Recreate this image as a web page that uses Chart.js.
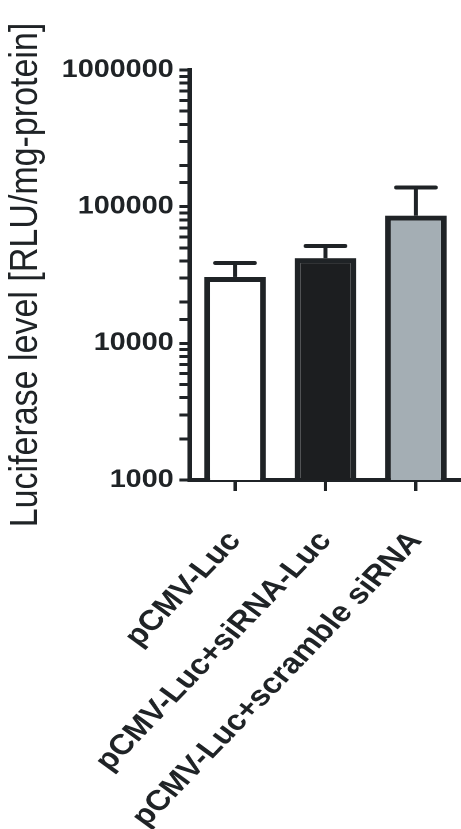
<!DOCTYPE html>
<html>
<head>
<meta charset="utf-8">
<script src="https://cdn.jsdelivr.net/npm/chart.js@4.4.1/dist/chart.umd.min.js"></script>
<style>
  html, body { margin: 0; padding: 0; background: #fff; overflow: hidden; }
  /* the source figure is stretched sideways, so the chart is too */
  #wrap { width: 401px; height: 829px; transform: scaleX(1.15); transform-origin: 0 0; }
</style>
</head>
<body>
<div id="wrap"><canvas id="myChart" width="401" height="829"></canvas></div>
<script>
// data
var categories = ['pCMV-Luc', 'pCMV-Luc+siRNA-Luc', 'pCMV-Luc+scramble siRNA'];
var means = [30600, 42000, 86000];
var sd = [8100, 9600, 52000];
var yTickLabels = [1000, 10000, 100000, 1000000];
var barColors = ['#ffffff', '#1c1e20', '#a4aeb4'];

var ink = '#1f2326';

// error bars (mean + SD, upper only)
const errorBars = {
    id: 'errorBars',
    afterDatasetsDraw(chart) {
        const ctx = chart.ctx;
        const yScale = chart.scales.y;
        const meta = chart.getDatasetMeta(0);
        ctx.save();
        ctx.strokeStyle = ink;
        meta.data.forEach(function (bar, i) {
            let top = yScale.getPixelForValue(means[i] + sd[i]);
            ctx.lineWidth = 3.5;
            ctx.lineCap = 'butt';
            ctx.beginPath();
            ctx.moveTo(bar.x, bar.y);
            ctx.lineTo(bar.x, top);
            ctx.stroke();
            ctx.lineCap = 'round';
            ctx.lineWidth = 4;
            ctx.beginPath();
            ctx.moveTo(bar.x - 17, top);
            ctx.lineTo(bar.x + 17, top);
            ctx.stroke();
        });
        ctx.restore();
    }
};

const ctx = document.getElementById('myChart').getContext('2d');
var myChart = new Chart(ctx, {
    type: 'bar',
    data: {
        labels: categories,
        datasets: [{
            data: means,
            backgroundColor: barColors,
            borderColor: ink,
            borderWidth: 5,
            borderSkipped: 'start',
            barPercentage: 0.68,
            categoryPercentage: 1
        }]
    },
    options: {
        responsive: false,
        animation: false,
        devicePixelRatio: 2,
        layout: { padding: { top: 70, left: 0, right: 0, bottom: 0 } },
        plugins: { legend: { display: false }, tooltip: { enabled: false } },
        scales: {
            x: {
                offset: true,
                grid: { display: true, offset: false, drawOnChartArea: false, color: ink, lineWidth: 3, tickLength: 11 },
                border: { display: true, color: ink, width: 4 },
                ticks: {
                    color: ink,
                    font: { family: 'Liberation Sans', size: 28.5, weight: 'bold' },
                    minRotation: 50,
                    maxRotation: 50,
                    padding: 34
                },
                afterFit: function (scale) {
                    scale.height = 349;
                    scale.paddingLeft = 0;
                    scale.paddingRight = 0;
                }
            },
            y: {
                type: 'logarithmic',
                min: 1000,
                max: 1000000,
                grid: { display: true, drawOnChartArea: false, color: ink, lineWidth: 3, tickLength: 9 },
                border: { display: true, color: ink, width: 4 },
                ticks: {
                    autoSkip: false,
                    color: ink,
                    padding: 5,
                    font: { family: 'Liberation Sans', size: 25, weight: 'bold' },
                    callback: function (value) {
                        return yTickLabels.indexOf(value) >= 0 ? String(value) : '';
                    }
                },
                title: {
                    display: true,
                    text: 'Luciferase level [RLU/mg-protein]',
                    color: ink,
                    font: { family: 'Liberation Sans', size: 34, weight: 'normal' },
                    padding: { top: 2, bottom: 4 }
                },
                afterFit: function (scale) {
                    scale.width = 165;
                    scale.paddingTop = 0;
                    scale.paddingBottom = 0;
                }
            }
        }
    },
    plugins: [errorBars]
});
</script>
</body>
</html>
